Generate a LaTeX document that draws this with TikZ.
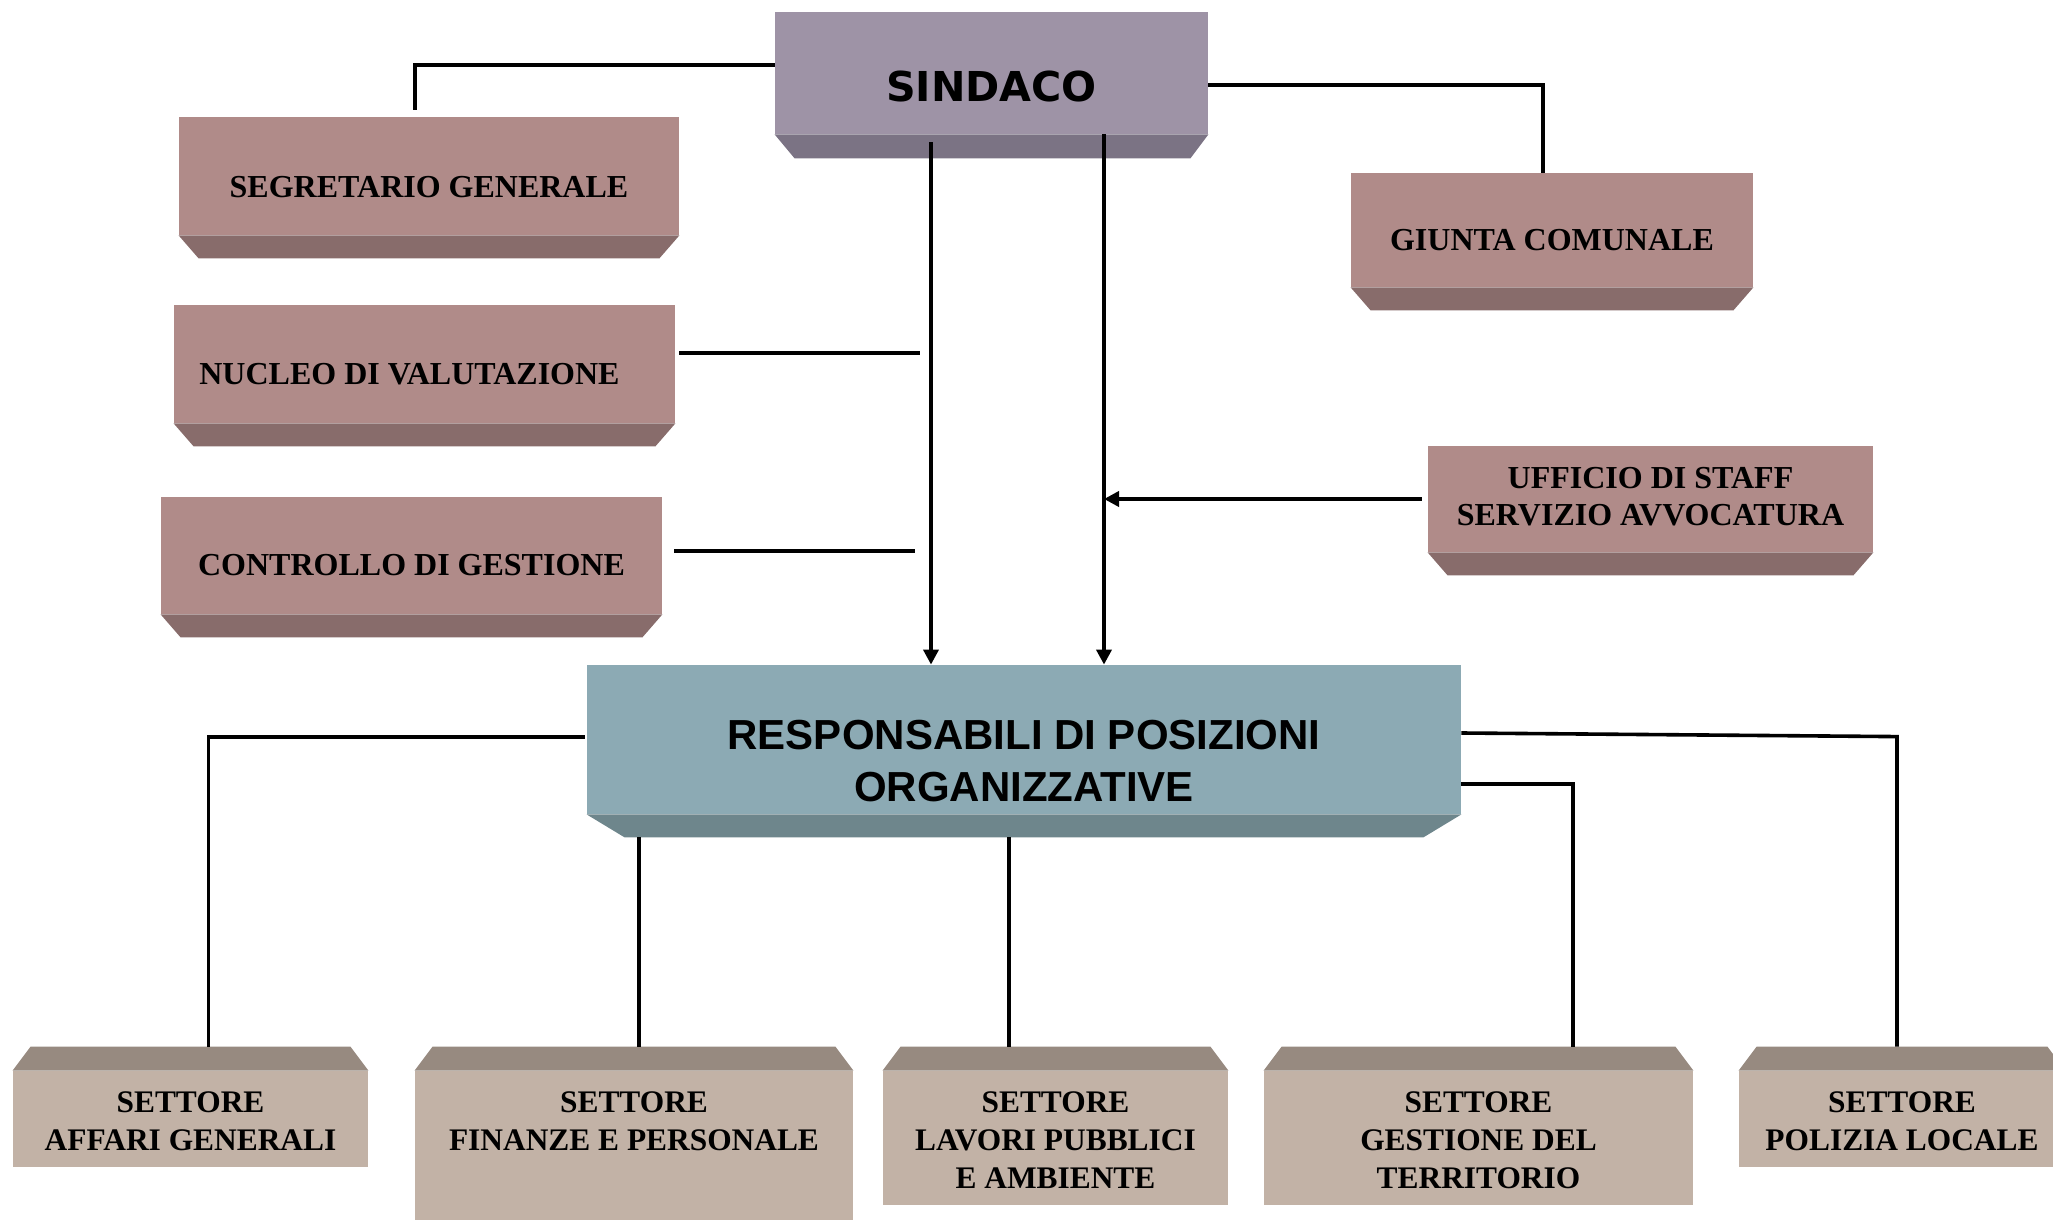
\documentclass[tikz,border=0pt]{standalone}
\usepackage{fontspec}
\setmainfont{Liberation Serif}
\newfontfamily\headfont{Liberation Sans}
\newfontfamily\sindfont{DejaVu Sans}
\usetikzlibrary{arrows.meta}
\definecolor{sindf}{HTML}{9E93A6}\definecolor{sinds}{HTML}{7B7384}
\definecolor{rosaf}{HTML}{B08B89}\definecolor{rosas}{HTML}{886C6B}
\definecolor{respf}{HTML}{8CAAB4}\definecolor{resps}{HTML}{6E868C}
\definecolor{setf}{HTML}{C2B2A6}\definecolor{sets}{HTML}{978A80}
\begin{document}
\begin{tikzpicture}[x=0.5pt,y=-0.5pt,
 face/.style={rectangle,inner sep=0pt,draw=none},
 lbl/.style={font=\bfseries\fontsize{16}{18.5}\selectfont,align=center,inner sep=0pt},
 settore/.style={lbl,anchor=north,font=\bfseries\fontsize{15.7}{19}\selectfont},
 big/.style={font=\headfont\bfseries\fontsize{21}{26}\selectfont,align=center,inner sep=0pt},
 conn/.style={line width=1.8pt},
 arr/.style={line width=1.8pt,-{Triangle[length=7.5pt,width=7.5pt]}}]
\useasboundingbox (0,0) rectangle (2053,1220);\clip (0,0) rectangle (2053,1220);
% vertice
\node[face,fill=sindf,minimum width=216.5pt,minimum height=61pt] (sind) at (991.5,73){};
\fill[sinds] (sind.south west)--(sind.south east)--++(-9pt,-12pt)--([shift={(10pt,-12pt)}]sind.south west)--cycle;
\node[big,font=\sindfont\bfseries\fontsize{20.6}{26}\selectfont] (sind-t) at ([yshift=-7pt]sind.center){SINDACO};
% organi di staff
\node[face,fill=rosaf,minimum width=250pt,minimum height=59pt] (segr) at (429,176){};
\node[face,fill=rosaf,minimum width=250.5pt,minimum height=59pt] (nucl) at (424.5,364){};
\node[face,fill=rosaf,minimum width=250.5pt,minimum height=58.5pt] (ctrl) at (411.5,555.5){};
\node[face,fill=rosaf,minimum width=201pt,minimum height=57pt] (giun) at (1552,230){};
\node[face,fill=rosaf,minimum width=222.5pt,minimum height=53pt] (uffi) at (1650.5,499){};
\foreach \n in {segr,nucl,ctrl,giun,uffi}
  \fill[rosas] (\n.south west)--(\n.south east)--++(-10pt,-11.5pt)--([shift={(10pt,-11.5pt)}]\n.south west)--cycle;
\node[lbl] (segr-t) at ([yshift=-5.5pt]segr.center){SEGRETARIO GENERALE};
\node[lbl] (nucl-t) at ([xshift=-7.5pt,yshift=-5pt]nucl.center){NUCLEO DI VALUTAZIONE};
\node[lbl] (ctrl-t) at ([yshift=-5pt]ctrl.center){CONTROLLO DI GESTIONE};
\node[lbl] (giun-t) at ([yshift=-5pt]giun.center){GIUNTA COMUNALE};
\node[lbl] (uffi-t) at ([yshift=1pt]uffi.center){UFFICIO DI STAFF\\SERVIZIO AVVOCATURA};
% posizioni organizzative
\node[face,fill=respf,minimum width=437pt,minimum height=74.5pt] (resp) at (1024,739.5){};
\fill[resps] (resp.south west)--(resp.south east)--++(-19pt,-11.5pt)--([shift={(19pt,-11.5pt)}]resp.south west)--cycle;
\node[big] (resp-t) at ([yshift=-11pt]resp.center){RESPONSABILI DI POSIZIONI\\ORGANIZZATIVE};
% settori
\node[face,fill=setf,minimum width=177.5pt,minimum height=48pt] (aff) at (190.5,1119){};
\node[face,fill=setf,minimum width=219pt,minimum height=89.5pt] (fin) at (634,1160.5){};
\node[face,fill=setf,minimum width=172.5pt,minimum height=67pt] (lav) at (1055.5,1138){};
\node[face,fill=setf,minimum width=214.5pt,minimum height=67pt] (ges) at (1478.5,1138){};
\node[face,fill=setf,minimum width=163pt,minimum height=48pt] (pol) at (1902,1119){};
\foreach \n in {aff,fin,lav,ges,pol}
  \fill[sets] (\n.north west)--([shift={(9pt,12pt)}]\n.north west)--([shift={(-9pt,12pt)}]\n.north east)--(\n.north east)--cycle;
\node[settore] (aff-t) at ([yshift=-10.5pt]aff.north){SETTORE\\AFFARI GENERALI};
\node[settore] (fin-t) at ([yshift=-10.5pt]fin.north){SETTORE\\FINANZE E PERSONALE};
\node[settore] (lav-t) at ([yshift=-10.5pt]lav.north){SETTORE\\LAVORI PUBBLICI\\E AMBIENTE};
\node[settore] (ges-t) at ([yshift=-10.5pt]ges.north){SETTORE\\GESTIONE DEL\\TERRITORIO};
\node[settore] (pol-t) at ([yshift=-10.5pt]pol.north){SETTORE\\POLIZIA LOCALE};
% collegamenti
\coordinate (s1) at ([xshift=-30.25pt,yshift=-4pt]sind.south);\coordinate (s2) at ([xshift=56.25pt]sind.south);
\draw[conn] ([yshift=4pt]sind.west) -| ([xshift=-7pt,yshift=3.5pt]segr.north);
\draw[conn] ([yshift=-6pt]sind.east) -| ([xshift=-4.5pt]giun.north);
\draw[arr] (s1) -- (s1 |- resp.north);\draw[arr] (s2) -- (s2 |- resp.north);
\coordinate (n1) at ([xshift=2pt,yshift=5.5pt]nucl.east);\draw[conn] (n1) -- ([xshift=-5.5pt]n1 -| s1);
\coordinate (c1) at ([xshift=6pt,yshift=2.25pt]ctrl.east);\draw[conn] (c1) -- ([xshift=-8pt]c1 -| s1);
\draw[arr] ([xshift=-3pt]uffi.west) -- (uffi.west -| s2);
\draw[conn] ([xshift=-1pt,yshift=1.25pt]resp.west) -| ([xshift=9pt,yshift=12pt]aff.north);
\draw[conn] ([xshift=2.5pt]fin.north |- resp.south)++(0,-11.5pt) -- ([xshift=2.5pt,yshift=12pt]fin.north);
\draw[conn] ([xshift=-23.25pt]lav.north |- resp.south)++(0,-11.5pt) -- ([xshift=-23.25pt,yshift=12pt]lav.north);
\draw[conn] ([yshift=3.25pt]resp.east) -- ([xshift=-2.5pt,yshift=167pt]pol.north) -- ([xshift=-2.5pt,yshift=12pt]pol.north);
\draw[conn] ([yshift=-22.25pt]resp.east) -| ([xshift=47.25pt,yshift=12pt]ges.north);
\end{tikzpicture}
\end{document}
